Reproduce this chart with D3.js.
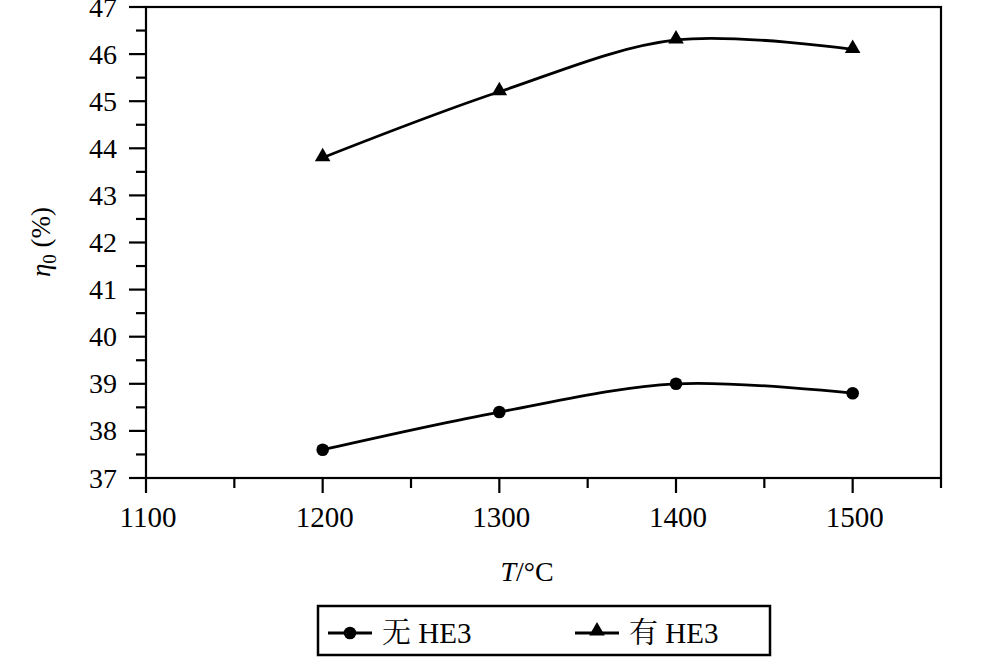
<!DOCTYPE html>
<html><head><meta charset="utf-8">
<script src="https://cdn.jsdelivr.net/npm/d3@7"></script>
<style>body{margin:0;background:#fff}svg{display:block}</style>
</head><body>
<svg id="c" width="1003" height="666"></svg>
<script>
const temps = [1200, 1300, 1400, 1500];
const withoutHE3 = [37.6, 38.4, 39.0, 38.8];
const withHE3 = [43.8, 45.2, 46.3, 46.1];
const xTicks = [1100, 1200, 1300, 1400, 1500];
const yTicks = [37, 38, 39, 40, 41, 42, 43, 44, 45, 46, 47];
const seriesNames = ["无", "有"];
const seriesSuffix = " HE3";

const FONT = "'Liberation Serif', monospace";
const CJK = "'Noto Serif CJK SC', monospace";
const svg = d3.select("#c");
const L = 146, R = 941, T = 7, B = 478;
const x = d3.scaleLinear().domain([1100, 1550]).range([L, R]);
const y = d3.scaleLinear().domain([37, 47]).range([B, T]);

// frame
svg.append("rect").attr("x", L).attr("y", T).attr("width", R - L).attr("height", B - T)
  .attr("fill", "none").attr("stroke", "#000").attr("stroke-width", 2.2);

// y axis ticks
const yMinor = d3.range(37.5, 47, 1);
svg.selectAll(".ymaj").data(yTicks).enter().append("line")
  .attr("x1", L - 17).attr("x2", L).attr("y1", d => y(d)).attr("y2", d => y(d))
  .attr("stroke", "#000").attr("stroke-width", 2.2);
svg.selectAll(".ymin").data(yMinor).enter().append("line")
  .attr("x1", L - 10).attr("x2", L).attr("y1", d => y(d)).attr("y2", d => y(d))
  .attr("stroke", "#000").attr("stroke-width", 2.2);
svg.selectAll(".ylab").data(yTicks).enter().append("text")
  .attr("x", L - 29).attr("y", d => y(d) + 9.5).attr("text-anchor", "end")
  .style("font-family", FONT).style("font-size", "28px").text(d => d);

// x axis ticks
const xMinor = [1150, 1250, 1350, 1450, 1550];
svg.selectAll(".xmaj").data(xTicks).enter().append("line")
  .attr("x1", d => x(d)).attr("x2", d => x(d)).attr("y1", B).attr("y2", B + 15)
  .attr("stroke", "#000").attr("stroke-width", 2.2);
svg.selectAll(".xmin").data(xMinor).enter().append("line")
  .attr("x1", d => x(d)).attr("x2", d => x(d)).attr("y1", B).attr("y2", B + 10)
  .attr("stroke", "#000").attr("stroke-width", 2.2);
svg.selectAll(".xlab").data(xTicks).enter().append("text")
  .attr("x", d => x(d) + 2).attr("y", 527).attr("text-anchor", "middle")
  .style("font-family", FONT).style("font-size", "29px").text(d => d);

// axis titles
const yt = svg.append("text").attr("transform", "translate(50,242) rotate(-90)")
  .attr("text-anchor", "middle").style("font-family", FONT).style("font-size", "27px");
yt.append("tspan").style("font-style", "italic").text("η");
yt.append("tspan").attr("dy", 6).style("font-size", "19px").text("0");
yt.append("tspan").attr("dy", -6).text(" (%)");

const xt = svg.append("text").attr("x", 527).attr("y", 581).attr("text-anchor", "middle")
  .style("font-family", FONT).style("font-size", "28px");
xt.append("tspan").style("font-style", "italic").text("T");
xt.append("tspan").text("/°C");

// lines
const line = d3.line().x(d => x(d[0])).y(d => y(d[1])).curve(d3.curveCatmullRom.alpha(0.5));
const s1 = temps.map((t, i) => [t, withoutHE3[i]]);
const s2 = temps.map((t, i) => [t, withHE3[i]]);
[s1, s2].forEach(s => svg.append("path").datum(s).attr("d", line)
  .attr("fill", "none").attr("stroke", "#000").attr("stroke-width", 2.8));

const tri = d3.symbol().type(d3.symbolTriangle).size(105);
svg.selectAll(".c1").data(s1).enter().append("circle")
  .attr("cx", d => x(d[0])).attr("cy", d => y(d[1])).attr("r", 6.3).attr("fill", "#000");
svg.selectAll(".t1").data(s2).enter().append("path").attr("d", tri)
  .attr("transform", d => `translate(${x(d[0])},${y(d[1]) - 1})`).attr("fill", "#000");

// legend
const lg = svg.append("g");
lg.append("rect").attr("x", 318).attr("y", 606).attr("width", 452).attr("height", 49)
  .attr("fill", "none").attr("stroke", "#000").attr("stroke-width", 2.5);
const ly = 633;
function legendText(xp, name) {
  const t = lg.append("text").attr("x", xp).attr("y", ly + 10).style("font-size", "29px").style("font-family", FONT);
  t.append("tspan").style("font-family", CJK).text(name);
  t.append("tspan").text(seriesSuffix);
}
lg.append("line").attr("x1", 328).attr("x2", 372).attr("y1", ly).attr("y2", ly).attr("stroke", "#000").attr("stroke-width", 2.8);
lg.append("circle").attr("cx", 350).attr("cy", ly).attr("r", 6.3).attr("fill", "#000");
legendText(382, seriesNames[0]);
lg.append("line").attr("x1", 575).attr("x2", 619).attr("y1", ly).attr("y2", ly).attr("stroke", "#000").attr("stroke-width", 2.8);
lg.append("path").attr("d", tri).attr("transform", `translate(597,${ly - 2})`).attr("fill", "#000");
legendText(629, seriesNames[1]);
</script>
</body></html>
